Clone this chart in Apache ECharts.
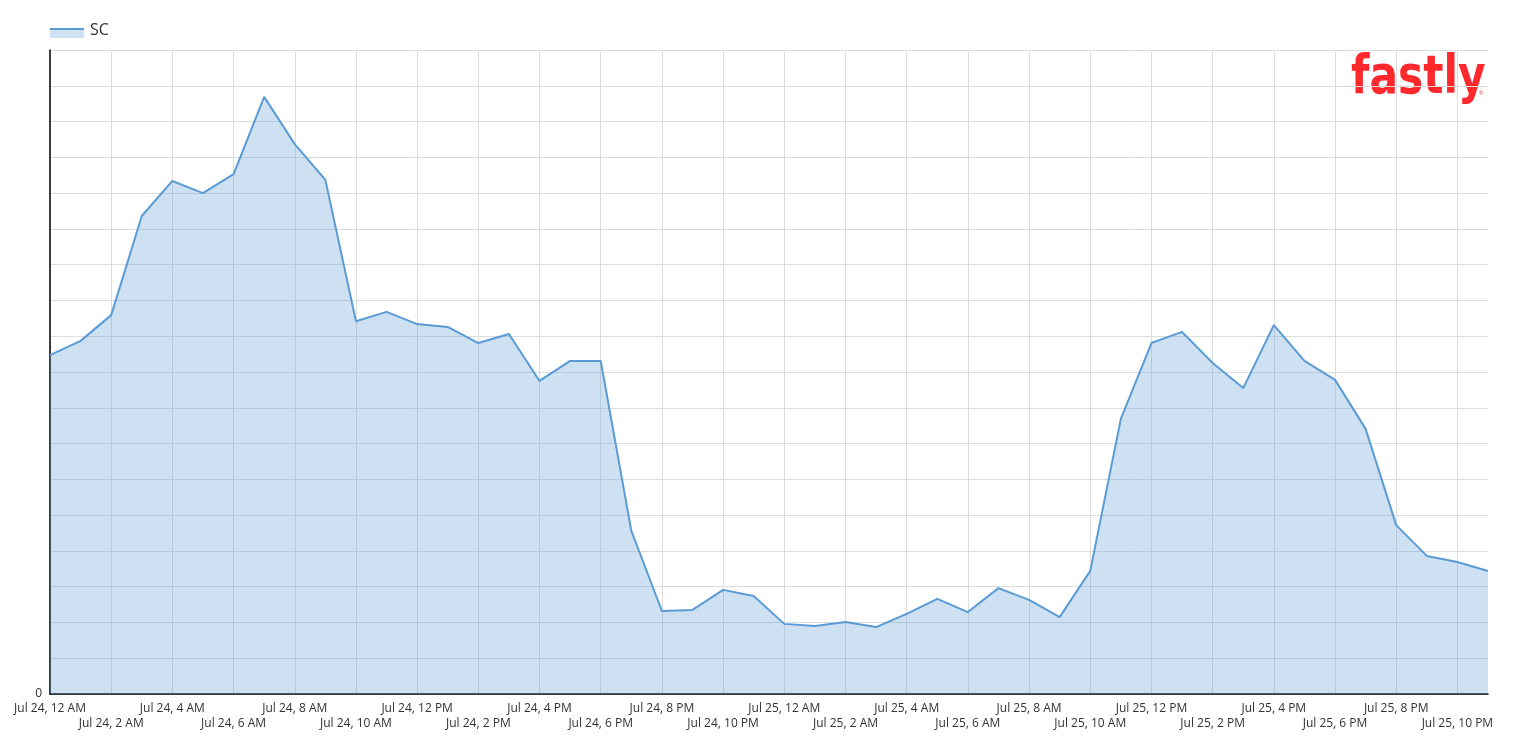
<!DOCTYPE html>
<html>
<head>
<meta charset="utf-8">
<script src="https://cdn.jsdelivr.net/npm/echarts@6/dist/echarts.min.js"></script>
<style>
html,body{margin:0;padding:0;background:#fff;}
#chart{width:1514px;height:745px;}
</style>
</head>
<body>
<div id="chart"></div>
<script>
// Hourly categories Jul 24 12 AM .. Jul 25 11 PM
const days = ['Jul 24', 'Jul 25'];
const hours = ['12 AM','1 AM','2 AM','3 AM','4 AM','5 AM','6 AM','7 AM','8 AM','9 AM','10 AM','11 AM',
               '12 PM','1 PM','2 PM','3 PM','4 PM','5 PM','6 PM','7 PM','8 PM','9 PM','10 PM','11 PM'];
const categories = [];
days.forEach(d => hours.forEach(h => categories.push(d + ', ' + h)));

const seriesName = 'SC';
const scValues = [
  9.47, 9.87, 10.59, 13.36, 14.34, 14.0, 14.53, 16.69, 15.37, 14.37,
  10.42, 10.68, 10.34, 10.26, 9.81, 10.06, 8.75, 9.31, 9.31, 4.56,
  2.32, 2.35, 2.91, 2.74, 1.96, 1.90, 2.01, 1.87, 2.24, 2.66,
  2.29, 2.96, 2.63, 2.15, 3.44, 7.69, 9.81, 10.12, 9.25, 8.55,
  10.31, 9.31, 8.78, 7.41, 4.72, 3.86, 3.69, 3.44
];

const FONT = '"Open Sans", Lato, sans-serif';
const chart = echarts.init(document.getElementById('chart'));
chart.setOption({
  animation: false,
  textStyle: { fontFamily: FONT },
  legend: {
    left: 50, top: 22, padding: 0,
    icon: 'rect',
    itemWidth: 34, itemHeight: 10,
    itemStyle: { opacity: 0 },
    textStyle: { fontSize: 16, color: '#333', fontFamily: FONT, padding: [0, 0, 0, 1] },
    data: [seriesName]
  },
  graphic: [
    { type: 'rect', x: 50, y: 28, shape: { width: 34, height: 10 }, style: { fill: '#cfe1f2' }, silent: true },
    { type: 'rect', x: 50, y: 28, shape: { width: 34, height: 2 }, style: { fill: '#5b9bd5' }, silent: true },
    { type: 'text', x: 1351, y: 53, scaleX: 0.8, silent: true,
      style: { text: 'fastly', font: 'bold 53px "DejaVu Sans", sans-serif', fill: '#ff282d', textVerticalAlign: 'top' } },
    { type: 'text', x: 1479, y: 90, silent: true, style: { text: '®', font: '6px sans-serif', fill: '#ff282d' } }
  ],
  grid: { left: 50, right: 26, top: 50, bottom: 51, containLabel: false },
  xAxis: {
    type: 'category',
    boundaryGap: false,
    data: categories,
    axisLine: { show: true, lineStyle: { color: '#000', width: 1.5 } },
    axisTick: { show: false },
    axisLabel: {
      interval: 0,
      fontSize: 12,
      color: '#333',
      margin: 7,
      lineHeight: 15,
      hideOverlap: false,
      formatter: function (v, i) {
        if (i % 4 === 0) return v;
        if (i % 4 === 2) return '\n' + v;
        return '';
      }
    },
    splitLine: {
      show: true,
      interval: function (i) { return i % 2 === 0; },
      lineStyle: { color: '#dddddd', width: 1 }
    }
  },
  yAxis: {
    type: 'value',
    min: 0, max: 18, interval: 1,
    axisLine: { show: true, lineStyle: { color: '#000', width: 1.5 } },
    axisTick: { show: false },
    axisLabel: {
      fontSize: 12, color: '#333', margin: 8,
      formatter: function (v) { return v === 0 ? '0' : ''; }
    },
    splitLine: { show: true, lineStyle: { color: '#dddddd', width: 1 } }
  },
  series: [{
    name: seriesName,
    type: 'line',
    data: scValues,
    showSymbol: false,
    symbol: 'none',
    lineStyle: { color: '#5b9bd5', width: 2 },
    itemStyle: { color: '#5b9bd5' },
    areaStyle: { color: '#5b9bd5', opacity: 0.3 }
  }]
});
</script>
</body>
</html>
